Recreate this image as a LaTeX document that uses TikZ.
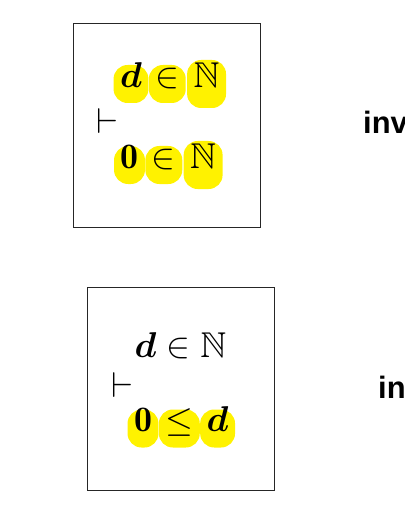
\RequirePackage{fix-cm}
\documentclass[tikz,border=0pt]{standalone}
\usepackage{amsmath,amssymb}
\usepackage{fontspec}
\newfontfamily\tagfont{Liberation Sans}
\usetikzlibrary{positioning}

\begin{document}
\begin{tikzpicture}[x=1bp, y=-1bp,
        frame/.style={draw=black!85, line width=1bp, minimum width=187bp, minimum height=203bp, inner sep=0pt},
        sym/.style={font=\fontsize{36}{42}\selectfont, inner xsep=6.5bp, inner ysep=0pt, text height=0.72em, text depth=0.05em},
        hl/.style={sym, fill=yellow, rounded corners=14bp, minimum height=38bp},
        hlbig/.style={hl, minimum height=48bp},
        plain/.style={font=\fontsize{36}{42}\selectfont, inner sep=0pt},
        tag/.style={font=\tagfont\bfseries\fontsize{31}{36}\selectfont, inner sep=0pt, anchor=base west}
    ]
        \useasboundingbox (0,0) rectangle (404,516);

        % Upper sequent
        \node[frame] (box1) at (166.5,125.5) {};
        \node[hl] (d1) at (131,84) {$\boldsymbol{d}$};
        \node[hl, right=0pt of d1] (in1) {$\in$};
        \node[hlbig, right=1bp of in1] (nat1) {$\mathbb{N}$};
        \node[plain] (turn1) at (107.5,121) {$\vdash$};
        \node[hl] (zero1) at (129.5,165) {$\mathbf{0}$};
        \node[hl, right=0pt of zero1] (in2) {$\in$};
        \node[hlbig, right=1bp of in2] (nat2) {$\mathbb{N}$};
        \node[tag] (inv) at (363,134) {inv};

        % Lower sequent
        \node[frame] (box2) at (180.5,388.5) {};
        \node[plain, anchor=base] (hyp2) at (180.5,357) {$\boldsymbol{d} \in \mathbb{N}$};
        \node[plain] (turn2) at (122.5,385) {$\vdash$};
        \node[hl] (zero2) at (143,428.5) {$\mathbf{0}$};
        \node[hl, right=0pt of zero2] (leq2) {$\leq$};
        \node[hl, right=0pt of leq2] (d2) {$\boldsymbol{d}$};
        \node[tag] (ini) at (378,398) {in};
    \end{tikzpicture}
\end{document}
